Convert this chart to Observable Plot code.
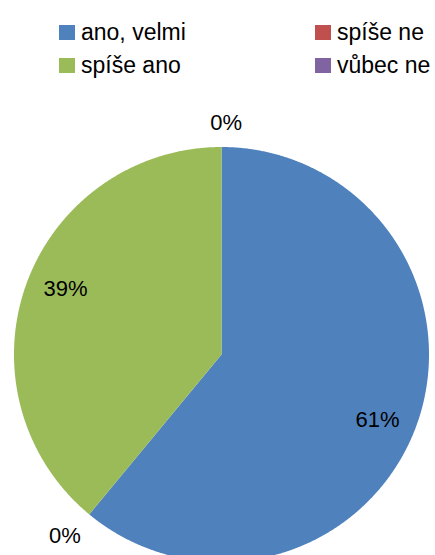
<!DOCTYPE html>
<html><head><meta charset="utf-8">
<script src="https://cdn.jsdelivr.net/npm/d3@7"></script>
<script src="https://cdn.jsdelivr.net/npm/@observablehq/plot@0.6"></script>
<style>
html,body{margin:0;padding:0;background:#fff;}
#wrap{position:relative;width:435px;height:555px;overflow:hidden;font-family:"Liberation Sans","Open Sans",sans-serif;}
#chart{position:absolute;left:0;top:0;}
.leg{position:absolute;display:flex;align-items:center;font-size:23px;color:#000;white-space:nowrap;line-height:23px;}
.sw{width:16px;height:15px;margin-right:6px;}
</style></head><body>
<div id="wrap"><div id="chart"></div></div>
<script>
const categories = ["ano, velmi", "spíše ne", "spíše ano", "vůbec ne"];
const values = [61, 0, 39, 0];
const colors = ["#4F81BD", "#C0504D", "#9BBB59", "#8064A2"];

const data = categories.map((c, i) => ({category: c, value: values[i]}));
const arcs = d3.pie().sort(null).value(d => d.value)(data);

const W = 435, H = 555, R = 207.5, CX = 221, CY = 354;

// slice outlines in unit-circle coordinates
const pts = [];
arcs.forEach(a => {
  if (a.data.value <= 0) return;
  const c = a.data.category;
  pts.push({category: c, x: 0, y: 0});
  const n = Math.max(2, Math.ceil((a.endAngle - a.startAngle) / 0.005));
  for (let k = 0; k <= n; k++) {
    const t = a.startAngle + (a.endAngle - a.startAngle) * k / n;
    pts.push({category: c, x: Math.sin(t), y: Math.cos(t)});
  }
  pts.push({category: c, x: 0, y: 0});
});

// labels: inside for non-zero slices, just outside the rim for empty ones
const labels = arcs.map(a => {
  const nonzero = a.data.value > 0;
  const m = (a.startAngle + a.endAngle) / 2 + (nonzero ? 0.05 : 0.02);
  const s = Math.sin(m), co = Math.cos(m);
  const r = nonzero ? 0.815 : (R + 11.5 + Math.abs(s) * 18 + Math.abs(co) * 12) / R;
  return {text: a.data.value + "%", x: r * s, y: r * co};
});

const chart = Plot.plot({
  width: W, height: H,
  margin: 0,
  x: {domain: [-CX / R, (W - CX) / R], axis: null},
  y: {domain: [-(H - CY) / R, CY / R], axis: null},
  color: {domain: categories, range: colors},
  style: {background: "#fff", fontFamily: "Liberation Sans, sans-serif"},
  marks: [
    Plot.line(pts, {x: "x", y: "y", z: "category", fill: "category", stroke: null, curve: "linear"}),
    Plot.text(labels, {x: "x", y: "y", text: "text", fontSize: 22, fill: "#000"})
  ]
});
document.getElementById("chart").appendChild(chart);

// legend (rows: Excel order)
const wrap = document.getElementById("wrap");
const legPos = [[59, 21], [315, 21], [59, 54], [315, 54]];
categories.forEach((c, i) => {
  const d = document.createElement("div");
  d.className = "leg";
  d.style.left = legPos[i][0] + "px";
  d.style.top = legPos[i][1] + "px";
  d.innerHTML = `<span class="sw" style="background:${colors[i]}"></span><span>${c}</span>`;
  wrap.appendChild(d);
});
</script>
</body></html>
